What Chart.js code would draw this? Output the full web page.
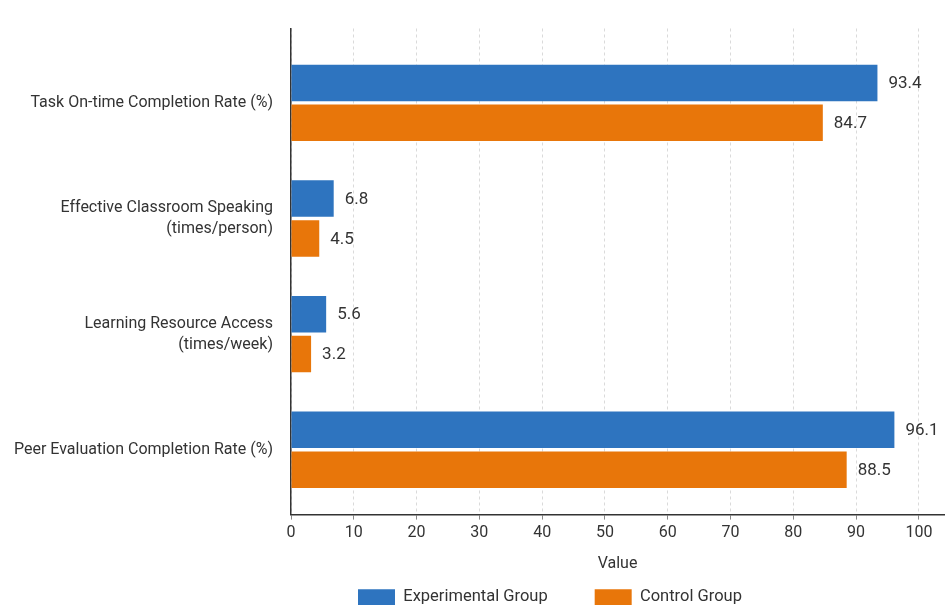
<!DOCTYPE html>
<html>
<head>
<meta charset="utf-8">
<script src="https://cdn.jsdelivr.net/npm/chart.js@4/dist/chart.umd.min.js"></script>
<style>
  html, body { margin: 0; padding: 0; background: #ffffff; overflow: hidden; }
  #wrap { position: relative; width: 946px; height: 605px; }
</style>
</head>
<body>
<div id="wrap"><canvas id="chart"></canvas></div>
<script>
// Metrics compared between the two groups
const categories = [
  'Task On-time Completion Rate (%)',
  ['Effective Classroom Speaking', '(times/person)'],
  ['Learning Resource Access', '(times/week)'],
  'Peer Evaluation Completion Rate (%)'
];
const experimentalValues = [93.4, 6.8, 5.6, 96.1];
const controlValues = [84.7, 4.5, 3.2, 88.5];
const xTickValues = [0, 10, 20, 30, 40, 50, 60, 70, 80, 90, 100];
const seriesNames = ['Experimental Group', 'Control Group'];

const BLUE = '#2E74BF';
const ORANGE = '#E8760A';
const TEXT = '#333333';
const FONT = 'Roboto, "Liberation Sans", Arial, sans-serif';

const toPoints = vals => vals.map((v, i) => ({ x: v, y: i }));

// Writes each bar's value just past its end
const valueLabels = {
  id: 'valueLabels',
  afterDatasetsDraw(chart) {
    const ctx = chart.ctx;
    ctx.save();
    ctx.font = '17px ' + FONT;
    ctx.fillStyle = TEXT;
    ctx.textAlign = 'left';
    ctx.textBaseline = 'middle';
    chart.data.datasets.forEach((ds, di) => {
      const meta = chart.getDatasetMeta(di);
      meta.data.forEach((el, i) => {
        ctx.fillText(ds.data[i].x.toFixed(1), el.x + 11, el.y + 1);
      });
    });
    ctx.restore();
  }
};

// Places the legend row under the axis title, starting below the plot
const legendPlacement = {
  id: 'legendPlacement',
  afterLayout(chart) {
    const lg = chart.legend;
    if (!lg) return;
    lg.top = 589 - 47;
    lg.left = 358 - 47;
  }
};

new Chart(document.getElementById('chart'), {
  type: 'bar',
  data: {
    datasets: [
      {
        label: seriesNames[0],
        data: toPoints(experimentalValues),
        backgroundColor: BLUE,
        borderWidth: 0,
        categoryPercentage: 0.69,
        barPercentage: 0.915
      },
      {
        label: seriesNames[1],
        data: toPoints(controlValues),
        backgroundColor: ORANGE,
        borderWidth: 0,
        categoryPercentage: 0.69,
        barPercentage: 0.915
      }
    ]
  },
  options: {
    indexAxis: 'y',
    responsive: true,
    maintainAspectRatio: false,
    animation: false,
    layout: { padding: { top: 27, right: 2, left: 0, bottom: 0 } },
    scales: {
      x: {
        type: 'linear',
        min: 0,
        max: 104,
        afterBuildTicks: axis => { axis.ticks = xTickValues.map(v => ({ value: v })); },
        border: { display: true, color: '#333333', width: 1.5, dash: [3, 3] },
        grid: {
          display: true,
          color: '#dadada',
          lineWidth: 1,
          drawTicks: true,
          tickLength: 5,
          tickColor: '#888888',
          tickBorderDash: []
        },
        ticks: {
          color: TEXT,
          font: { family: FONT, size: 16 },
          padding: 4
        },
        title: {
          display: true,
          text: 'Value',
          color: TEXT,
          font: { family: FONT, size: 16 },
          padding: { top: 8, bottom: 0 }
        }
      },
      y: {
        type: 'linear',
        offset: false,
        reverse: true,
        min: -0.643,
        max: 3.561,
        afterBuildTicks: axis => { axis.ticks = categories.map((c, i) => ({ value: i })); },
        afterFit: axis => { axis.width = 291; },
        border: { display: true, color: '#333333', width: 1.5 },
        grid: { display: false, drawTicks: false, offset: false },
        ticks: {
          color: TEXT,
          font: { family: FONT, size: 16, lineHeight: 1.31 },
          padding: 18,
          autoSkip: false,
          callback: v => categories[v]
        }
      }
    },
    plugins: {
      legend: {
        position: 'bottom',
        align: 'start',
        maxHeight: 31,
        labels: {
          color: TEXT,
          font: { family: FONT, size: 16.5 },
          boxWidth: 37,
          boxHeight: 16,
          padding: 47
        }
      },
      tooltip: { enabled: false }
    }
  },
  plugins: [valueLabels, legendPlacement]
});
</script>
</body>
</html>
